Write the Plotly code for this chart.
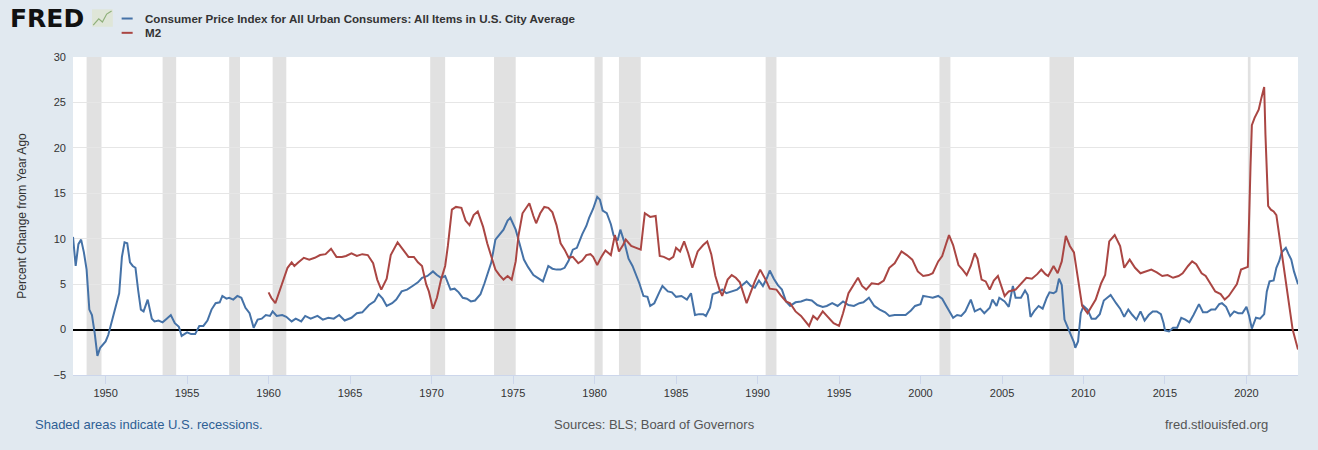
import plotly.graph_objects as go

# CPI, percent change from year ago
cpi_dates = [
    "1948-01", "1948-03", "1948-05", "1948-07", "1948-09", "1948-11", "1949-01", "1949-03", "1949-05", "1949-07",
    "1949-09", "1949-11", "1950-01", "1950-03", "1950-05", "1950-07", "1950-09", "1950-11", "1951-01", "1951-03",
    "1951-05", "1951-07", "1951-09", "1951-11", "1952-01", "1952-03", "1952-05", "1952-08", "1952-11", "1953-01",
    "1953-04", "1953-07", "1953-10", "1954-01", "1954-04", "1954-07", "1954-09", "1955-01", "1955-04", "1955-07",
    "1955-10", "1956-01", "1956-04", "1956-07", "1956-10", "1957-01", "1957-03", "1957-06", "1957-08", "1957-11",
    "1958-02", "1958-05", "1958-08", "1958-11", "1959-02", "1959-05", "1959-08", "1959-11", "1960-02", "1960-04",
    "1960-07", "1960-11", "1961-02", "1961-06", "1961-09", "1962-01", "1962-04", "1962-08", "1963-01", "1963-05",
    "1963-09", "1964-01", "1964-05", "1964-09", "1965-02", "1965-06", "1965-10", "1966-03", "1966-07", "1966-10",
    "1967-01", "1967-04", "1967-08", "1967-11", "1968-03", "1968-07", "1968-11", "1969-03", "1969-06", "1969-10",
    "1970-02", "1970-05", "1970-08", "1970-11", "1971-03", "1971-06", "1971-09", "1971-12", "1972-03", "1972-06",
    "1972-09", "1973-01", "1973-04", "1973-06", "1973-09", "1973-12", "1974-03", "1974-06", "1974-09", "1974-11",
    "1975-03", "1975-06", "1975-09", "1975-12", "1976-04", "1976-08", "1976-11", "1977-03", "1977-06", "1977-09",
    "1977-12", "1978-03", "1978-06", "1978-09", "1978-12", "1979-04", "1979-07", "1979-09", "1979-12", "1980-03",
    "1980-05", "1980-07", "1980-10", "1981-01", "1981-03", "1981-06", "1981-08", "1981-11", "1982-02", "1982-05",
    "1982-08", "1982-10", "1983-01", "1983-04", "1983-06", "1983-09", "1984-01", "1984-03", "1984-07", "1984-10",
    "1985-01", "1985-05", "1985-09", "1985-12", "1986-03", "1986-06", "1986-09", "1986-11", "1987-02", "1987-04",
    "1987-08", "1987-11", "1988-02", "1988-06", "1988-10", "1989-01", "1989-05", "1989-08", "1989-11", "1990-02",
    "1990-05", "1990-08", "1990-10", "1991-01", "1991-04", "1991-07", "1991-10", "1992-01", "1992-05", "1992-09",
    "1993-01", "1993-05", "1993-09", "1994-01", "1994-04", "1994-08", "1994-12", "1995-04", "1995-08", "1995-12",
    "1996-04", "1996-07", "1996-11", "1997-03", "1997-07", "1997-11", "1998-02", "1998-06", "1998-10", "1999-02",
    "1999-06", "1999-09", "2000-01", "2000-03", "2000-07", "2000-10", "2001-02", "2001-05", "2001-08", "2001-11",
    "2002-01", "2002-04", "2002-07", "2002-10", "2003-02", "2003-05", "2003-09", "2003-12", "2004-04", "2004-06",
    "2004-09", "2004-11", "2005-03", "2005-06", "2005-09", "2005-11", "2006-03", "2006-06", "2006-08", "2006-10",
    "2007-01", "2007-04", "2007-07", "2007-10", "2007-12", "2008-03", "2008-05", "2008-07", "2008-09", "2008-11",
    "2009-02", "2009-04", "2009-06", "2009-07", "2009-09", "2009-11", "2010-01", "2010-04", "2010-07", "2010-10",
    "2011-01", "2011-04", "2011-07", "2011-09", "2012-01", "2012-04", "2012-07", "2012-10", "2013-01", "2013-04",
    "2013-07", "2013-10", "2014-01", "2014-04", "2014-07", "2014-10", "2014-12", "2015-01", "2015-04", "2015-07",
    "2015-10", "2016-01", "2016-04", "2016-07", "2016-10", "2017-02", "2017-05", "2017-08", "2017-11", "2018-02",
    "2018-05", "2018-07", "2018-10", "2019-01", "2019-04", "2019-07", "2019-10", "2020-01", "2020-03", "2020-05",
    "2020-08", "2020-11", "2021-02", "2021-04", "2021-06", "2021-09", "2021-11", "2022-01", "2022-03", "2022-06",
    "2022-08", "2022-10", "2022-12", "2023-03",
]
cpi_values = [
    10.2, 7.0, 9.4, 9.9, 8.5, 6.6, 2.2, 1.6, -0.4, -2.9,
    -2.0, -1.7, -1.3, -0.6, 0.6, 1.8, 2.8, 4.0, 8.0, 9.6,
    9.5, 7.4, 7.0, 6.8, 4.3, 2.2, 2.0, 3.3, 1.2, 0.9,
    1.0, 0.8, 1.2, 1.6, 0.7, 0.3, -0.7, -0.3, -0.5, -0.5,
    0.4, 0.4, 1.0, 2.2, 2.9, 3.0, 3.7, 3.4, 3.5, 3.3,
    3.7, 3.5, 2.4, 1.8, 0.2, 1.1, 1.2, 1.6, 1.5, 2.0,
    1.5, 1.6, 1.4, 0.9, 1.2, 0.9, 1.5, 1.2, 1.5, 1.1,
    1.3, 1.2, 1.6, 1.0, 1.3, 1.8, 1.9, 2.7, 3.1, 3.9,
    3.4, 2.6, 2.9, 3.3, 4.2, 4.4, 4.8, 5.2, 5.7, 5.9,
    6.4, 6.0, 5.7, 5.9, 4.4, 4.5, 4.1, 3.5, 3.4, 3.1,
    3.2, 3.9, 5.1, 6.0, 7.4, 9.9, 10.4, 11.0, 12.0, 12.3,
    11.0, 9.4, 7.7, 6.9, 6.0, 5.6, 5.3, 7.0, 6.7, 6.6,
    6.6, 6.8, 7.6, 8.8, 9.0, 10.5, 11.4, 12.3, 13.3, 14.6,
    14.3, 13.1, 12.8, 11.6, 10.4, 9.8, 11.0, 9.6, 7.8, 7.0,
    5.9, 5.1, 3.7, 3.6, 2.6, 2.9, 4.2, 4.8, 4.2, 4.1,
    3.6, 3.7, 3.3, 4.0, 1.6, 1.7, 1.7, 1.5, 2.4, 3.9,
    4.1, 4.4, 4.0, 4.2, 4.4, 4.8, 5.3, 4.8, 4.6, 5.4,
    4.8, 5.7, 6.5, 5.6, 4.9, 4.4, 3.1, 2.6, 3.0, 3.1,
    3.3, 3.2, 2.7, 2.5, 2.6, 2.9, 2.6, 3.1, 2.7, 2.6,
    2.9, 3.0, 3.5, 2.6, 2.2, 1.9, 1.5, 1.6, 1.6, 1.6,
    2.1, 2.6, 2.8, 3.7, 3.6, 3.5, 3.7, 3.4, 2.6, 1.9,
    1.3, 1.6, 1.5, 2.0, 3.3, 2.0, 2.3, 1.8, 2.4, 3.3,
    2.6, 3.5, 3.1, 2.5, 4.8, 3.5, 3.5, 4.3, 3.8, 1.4,
    2.1, 2.6, 2.3, 3.5, 4.1, 4.0, 4.2, 5.6, 4.9, 1.1,
    0.0, -0.6, -1.4, -2.0, -1.3, 1.8, 2.6, 2.2, 1.2, 1.2,
    1.7, 3.2, 3.6, 3.8, 2.9, 2.3, 1.4, 2.2, 1.6, 1.1,
    2.0, 1.0, 1.6, 2.0, 2.0, 1.7, 0.7, -0.1, -0.2, 0.2,
    0.2, 1.3, 1.1, 0.8, 1.6, 2.8, 1.9, 1.9, 2.2, 2.2,
    2.8, 2.9, 2.5, 1.5, 2.0, 1.8, 1.8, 2.5, 1.5, 0.1,
    1.3, 1.2, 1.7, 4.2, 5.3, 5.4, 6.8, 7.5, 8.5, 9.0,
    8.3, 7.7, 6.4, 5.0,
]

# M2, percent change from year ago
m2_dates = [
    "1960-01", "1960-03", "1960-06", "1960-09", "1960-12", "1961-03", "1961-06", "1961-08", "1961-11", "1962-03",
    "1962-07", "1962-11", "1963-03", "1963-07", "1963-11", "1964-03", "1964-07", "1964-10", "1965-02", "1965-06",
    "1965-10", "1966-02", "1966-06", "1966-09", "1966-12", "1967-04", "1967-07", "1967-12", "1968-04", "1968-08",
    "1968-12", "1969-03", "1969-06", "1969-09", "1969-11", "1970-02", "1970-05", "1970-08", "1970-11", "1971-01",
    "1971-04", "1971-07", "1971-11", "1972-02", "1972-05", "1972-08", "1972-11", "1973-03", "1973-06", "1973-09",
    "1973-12", "1974-03", "1974-06", "1974-09", "1974-12", "1975-03", "1975-05", "1975-08", "1976-01", "1976-04",
    "1976-06", "1976-09", "1976-12", "1977-03", "1977-06", "1977-09", "1977-12", "1978-03", "1978-06", "1978-09",
    "1979-01", "1979-04", "1979-07", "1979-10", "1979-12", "1980-03", "1980-06", "1980-09", "1981-01", "1981-04",
    "1981-07", "1981-10", "1981-12", "1982-04", "1982-08", "1982-11", "1983-01", "1983-02", "1983-06", "1983-10",
    "1984-01", "1984-04", "1984-08", "1984-11", "1985-01", "1985-04", "1985-07", "1985-10", "1986-01", "1986-05",
    "1986-09", "1986-12", "1987-03", "1987-06", "1987-09", "1987-11", "1988-03", "1988-06", "1988-09", "1988-12",
    "1989-05", "1989-08", "1989-11", "1990-03", "1990-07", "1990-10", "1991-03", "1991-06", "1991-10", "1992-01",
    "1992-05", "1992-09", "1993-03", "1993-06", "1993-09", "1994-01", "1994-05", "1994-09", "1995-01", "1995-04",
    "1995-08", "1995-12", "1996-03", "1996-06", "1996-09", "1997-01", "1997-06", "1997-10", "1998-02", "1998-06",
    "1998-11", "1999-03", "1999-07", "1999-11", "2000-03", "2000-07", "2000-10", "2001-02", "2001-05", "2001-08",
    "2001-10", "2002-01", "2002-05", "2002-08", "2002-11", "2003-02", "2003-05", "2003-07", "2003-10", "2004-01",
    "2004-04", "2004-07", "2004-10", "2005-03", "2005-06", "2005-11", "2006-03", "2006-07", "2006-11", "2007-03",
    "2007-06", "2007-09", "2007-11", "2008-03", "2008-06", "2008-09", "2008-12", "2009-03", "2009-06", "2009-09",
    "2009-12", "2010-04", "2010-07", "2010-10", "2011-02", "2011-05", "2011-08", "2011-12", "2012-04", "2012-07",
    "2012-11", "2013-03", "2013-07", "2013-11", "2014-03", "2014-07", "2014-11", "2015-03", "2015-07", "2015-11",
    "2016-02", "2016-06", "2016-09", "2016-12", "2017-04", "2017-07", "2017-11", "2018-02", "2018-06", "2018-09",
    "2018-12", "2019-03", "2019-06", "2019-09", "2019-12", "2020-02", "2020-04", "2020-05", "2020-07", "2020-10",
    "2020-12", "2021-02", "2021-03", "2021-04", "2021-05", "2021-07", "2021-09", "2021-11", "2022-01", "2022-03",
    "2022-06", "2022-08", "2022-11", "2023-03",
]
m2_values = [
    4.1, 3.5, 2.9, 4.2, 5.5, 6.8, 7.4, 7.0, 7.4, 7.9,
    7.7, 7.9, 8.2, 8.3, 8.9, 8.0, 8.0, 8.1, 8.4, 8.1,
    8.3, 8.2, 7.3, 5.5, 4.4, 5.6, 8.2, 9.6, 8.8, 8.0,
    8.0, 7.4, 7.0, 5.0, 4.2, 2.3, 3.5, 5.5, 7.0, 9.2,
    13.2, 13.5, 13.4, 12.0, 11.5, 12.6, 13.0, 11.3, 9.5, 8.1,
    6.6, 6.0, 5.5, 5.9, 5.5, 7.5, 10.3, 12.8, 13.9, 12.5,
    11.7, 12.8, 13.5, 13.4, 12.9, 11.5, 9.5, 8.8, 7.9, 8.0,
    7.3, 7.6, 8.2, 8.3, 8.0, 7.1, 8.0, 8.7, 8.2, 10.4,
    8.6, 9.3, 9.9, 9.2, 9.0, 8.8, 11.5, 12.8, 12.4, 12.5,
    8.1, 8.0, 7.7, 8.0, 9.0, 8.6, 9.7, 8.4, 6.8, 8.6,
    9.3, 9.7, 8.3, 5.9, 4.4, 3.7, 5.5, 6.0, 5.7, 5.2,
    2.9, 4.2, 5.3, 6.6, 5.5, 4.5, 4.4, 3.8, 3.1, 2.9,
    2.0, 1.5, 0.4, 1.5, 1.1, 2.0, 1.3, 0.7, 0.4, 1.8,
    4.0, 5.0, 5.7, 4.8, 4.4, 5.1, 5.0, 5.4, 6.8, 7.3,
    8.6, 8.2, 7.7, 6.4, 5.9, 6.0, 6.2, 7.5, 8.1, 9.5,
    10.4, 9.3, 7.1, 6.6, 6.0, 7.0, 8.4, 7.8, 5.5, 5.3,
    4.4, 5.4, 5.9, 3.7, 4.2, 4.4, 5.0, 5.7, 5.6, 6.1,
    6.6, 6.1, 5.9, 7.0, 6.2, 7.5, 10.3, 9.2, 8.5, 5.5,
    2.6, 1.8, 2.5, 3.3, 5.1, 6.0, 9.7, 10.4, 9.2, 6.8,
    7.7, 6.8, 6.2, 6.4, 6.6, 6.3, 5.9, 6.0, 5.7, 5.9,
    6.2, 7.0, 7.5, 7.2, 6.2, 5.9, 5.0, 4.2, 3.9, 3.3,
    3.7, 4.4, 5.0, 6.6, 6.8, 6.9, 18.0, 22.5, 23.3, 24.2,
    25.5, 26.7, 21.5, 17.2, 13.6, 13.2, 13.0, 12.6, 10.5, 8.4,
    5.0, 3.0, 0.0, -2.2,
]

# NBER recessions (start, end)
rec_start = ["1948-11-01", "1953-07-01", "1957-08-01", "1960-04-01", "1969-12-01", "1973-11-01",
             "1980-01-01", "1981-07-01", "1990-07-01", "2001-03-01", "2007-12-01", "2020-02-01"]
rec_end = ["1949-10-01", "1954-05-01", "1958-04-01", "1961-02-01", "1970-11-01", "1975-03-01",
           "1980-07-01", "1982-11-01", "1991-03-01", "2001-11-01", "2009-06-01", "2020-04-01"]

tick_years = [str(y) for y in range(1950, 2021, 5)]

cpi_name = "Consumer Price Index for All Urban Consumers: All Items in U.S. City Average"
m2_name = "M2"
BLUE = "#4572a7"
RED = "#aa4643"
FONT = "Liberation Sans, Arial, sans-serif"

fig = go.Figure()

fig.add_trace(go.Scatter(x=cpi_dates, y=cpi_values, mode="lines", name=cpi_name,
                         line=dict(color=BLUE, width=2)))
fig.add_trace(go.Scatter(x=m2_dates, y=m2_values, mode="lines", name=m2_name,
                         line=dict(color=RED, width=2)))

# recession bars
for s, e in zip(rec_start, rec_end):
    fig.add_vrect(x0=s, x1=e, fillcolor="#e1e1e1", opacity=1, line_width=0, layer="below")

fig.update_layout(
    width=1318,
    height=450,
    autosize=False,
    paper_bgcolor="#e1e9f0",
    plot_bgcolor="#ffffff",
    margin=dict(l=73, r=20, t=57, b=75),
    showlegend=False,
    font=dict(family=FONT, size=11, color="#333333"),
    xaxis=dict(
        type="date",
        range=["1948-01-01", "2023-03-01"],
        tickvals=[y + "-01-01" for y in tick_years],
        ticktext=tick_years,
        showgrid=False,
        ticks="outside",
        ticklen=8,
        tickcolor="#ccd6eb",
        showline=True,
        linecolor="#ccd6eb",
        tickfont=dict(size=11, color="#333333"),
        zeroline=False,
    ),
    yaxis=dict(
        range=[-5, 30],
        dtick=5,
        gridcolor="#e6e6e6",
        gridwidth=1,
        zeroline=True,
        zerolinecolor="#000000",
        zerolinewidth=2,
        tickfont=dict(size=11, color="#333333"),
        title=dict(text="Percent Change from Year Ago", font=dict(size=12, color="#333333"), standoff=24),
        ticklabelstandoff=6,
    ),
)

# header: logo and legend
fig.add_annotation(xref="paper", yref="paper", x=-0.053, y=1.12, xanchor="left", yanchor="middle",
                   text="<b>FRED</b>", showarrow=False,
                   font=dict(family="DejaVu Sans, Arial Black, sans-serif", size=25, color="#111111"))
fig.add_shape(type="rect", xref="paper", yref="paper", x0=0.0155, x1=0.0325, y0=1.095, y1=1.15,
              fillcolor="#dfe6d8", line=dict(width=0))
fig.add_shape(type="path", xref="paper", yref="paper",
              path="M 0.0165 1.1 L 0.021 1.12 L 0.024 1.11 L 0.0275 1.135 L 0.0315 1.145",
              line=dict(color="#8fb07a", width=1.2))
fig.add_shape(type="line", xref="paper", yref="paper", x0=0.0397, x1=0.0487, y0=1.121, y1=1.121,
              line=dict(color=BLUE, width=2))
fig.add_shape(type="line", xref="paper", yref="paper", x0=0.0397, x1=0.0487, y0=1.076, y1=1.076,
              line=dict(color=RED, width=2))
fig.add_annotation(xref="paper", yref="paper", x=0.057, y=1.121, xanchor="left", yanchor="middle",
                   text="<b>" + cpi_name + "</b>", showarrow=False,
                   font=dict(family=FONT, size=11.6, color="#333333"))
fig.add_annotation(xref="paper", yref="paper", x=0.057, y=1.076, xanchor="left", yanchor="middle",
                   text="<b>" + m2_name + "</b>", showarrow=False,
                   font=dict(family=FONT, size=11.6, color="#333333"))

# footer
fig.add_annotation(xref="paper", yref="paper", x=-0.033, y=-0.157, xanchor="left", yanchor="middle",
                   text="Shaded areas indicate U.S. recessions.", showarrow=False,
                   font=dict(family=FONT, size=13, color="#2e5f94"))
fig.add_annotation(xref="paper", yref="paper", x=0.475, y=-0.157, xanchor="center", yanchor="middle",
                   text="Sources: BLS; Board of Governors", showarrow=False,
                   font=dict(family=FONT, size=13, color="#555555"))
fig.add_annotation(xref="paper", yref="paper", x=0.977, y=-0.157, xanchor="right", yanchor="middle",
                   text="fred.stlouisfed.org", showarrow=False,
                   font=dict(family=FONT, size=13, color="#555555"))

fig.write_html("out.html", config={"displayModeBar": False},
               post_script="document.body.style.margin='0px';")
